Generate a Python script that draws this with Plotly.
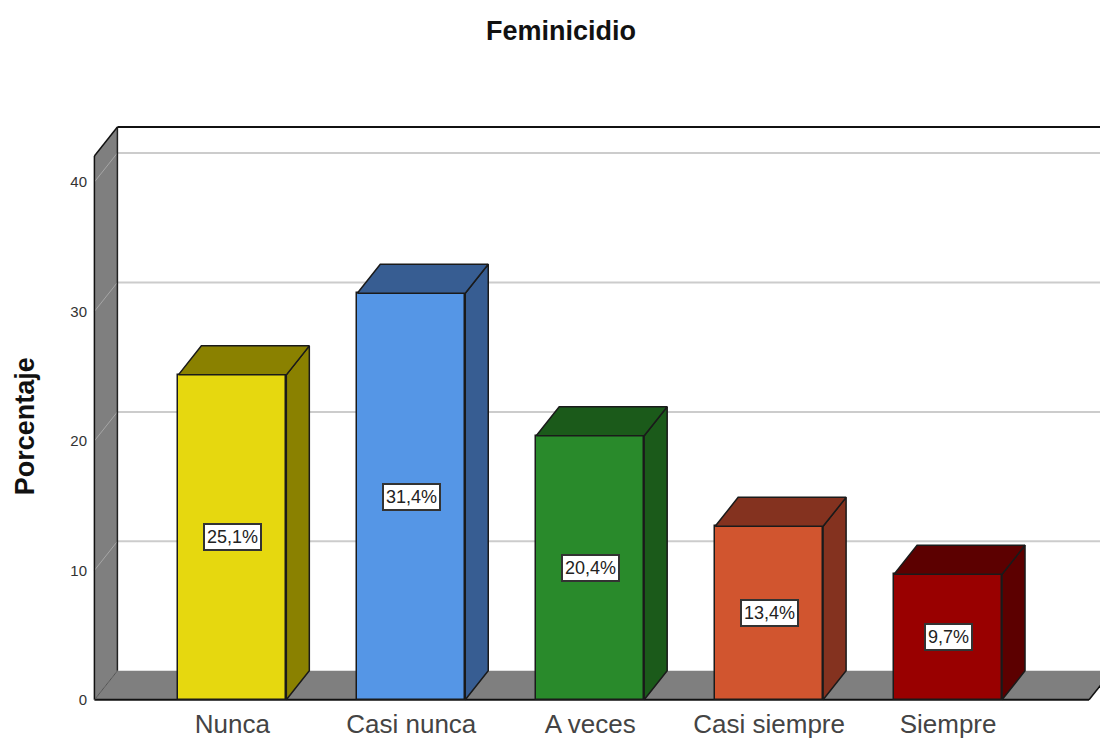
import plotly.graph_objects as go

# ---- datos ----
categorias = ["Nunca", "Casi nunca", "A veces", "Casi siempre", "Siempre"]
porcentajes = [25.1, 31.4, 20.4, 13.4, 9.7]
ticks_y = [0, 10, 20, 30, 40]
colores = ["#E6D80F", "#5596E6", "#298A2B", "#D1552F", "#990000"]
oscuros = ["#8A8100", "#375D92", "#1B5A1A", "#84321F", "#5C0000"]

FUENTE = "Liberation Sans, Arial, sans-serif"
ANCHO, ALTO = 1100, 740

# escala de los ejes: 179 px por categoría, 12.95 px por punto porcentual
PX_X, PX_Y = 179.0, 12.95
X0_PX, Y0_PX = 232.0, 700.0
x_min, x_max = -0.79, (ANCHO - X0_PX) / PX_X
y_min, y_max = -0.4, 44.4

# profundidad del efecto 3D, en unidades de los ejes
dx, dy = 23 / PX_X, 29 / PX_Y
media_barra = 54 / PX_X
izq, der = -138 / PX_X, 4.788
techo = 42.0

GRIS = "#7F7F7F"
BORDE = "#1A1A1A"

shapes = []


def poligono(xs, ys, relleno, borde=None, ancho=0):
    camino = "M " + " L ".join(f"{a},{b}" for a, b in zip(xs, ys)) + " Z"
    shapes.append(dict(type="path", path=camino, xref="x", yref="y", layer="below",
                       fillcolor=relleno, line=dict(color=borde or relleno, width=ancho)))


def linea(x0, y0, x1, y1, color, ancho):
    shapes.append(dict(type="line", x0=x0, y0=y0, x1=x1, y1=y1, xref="x", yref="y",
                       layer="below", line=dict(color=color, width=ancho)))


# pared izquierda y piso
poligono([izq, izq + dx, izq + dx, izq], [0, dy, techo + dy, techo], GRIS)
poligono([izq, der, der + dx, izq + dx], [0, 0, dy, dy], GRIS)

# líneas de la cuadrícula sobre la pared del fondo y la pared izquierda
for t in ticks_y[1:]:
    linea(izq + dx, t + dy, x_max + 0.1, t + dy, "#CCCCCC", 2)
    linea(izq, t, izq + dx, t + dy, "#A6A6A6", 1)

# contornos de la caja
linea(izq + dx, dy, izq + dx, techo + dy, "#222222", 1.5)
linea(izq + dx, techo + dy, x_max + 0.1, techo + dy, "#111111", 2)
linea(izq, techo, izq + dx, techo + dy, "#111111", 1.5)
linea(izq, 0, izq, techo, "#111111", 1.5)
linea(izq, 0, der, 0, "#111111", 2)
linea(der, 0, der + dx, dy, "#111111", 1.5)
linea(izq, 0, izq + dx, dy, "#555555", 1)

fig = go.Figure()

# caras laterales y superiores de cada barra
for i, v in enumerate(porcentajes):
    d = i + media_barra
    a = i - media_barra
    fig.add_trace(go.Scatter(x=[d, d + dx, d + dx, d, d], y=[0, dy, v + dy, v, 0],
        mode="lines", fill="toself", fillcolor=oscuros[i],
        line=dict(color=BORDE, width=1.5), hoverinfo="skip", showlegend=False))
    fig.add_trace(go.Scatter(x=[a, a + dx, d + dx, d, a], y=[v, v + dy, v + dy, v, v],
        mode="lines", fill="toself", fillcolor=oscuros[i],
        line=dict(color=BORDE, width=1.5), hoverinfo="skip", showlegend=False))

# cara frontal
fig.add_trace(go.Bar(x=list(range(len(categorias))), y=porcentajes, width=2 * media_barra,
    marker=dict(color=colores, line=dict(color=BORDE, width=1.5)), showlegend=False))

for i, v in enumerate(porcentajes):
    fig.add_annotation(x=i, y=v / 2, text=f"{v:.1f}%".replace(".", ","), showarrow=False,
        font=dict(family=FUENTE, size=18, color="#222222"), bgcolor="white",
        bordercolor="#333333", borderwidth=2, borderpad=2)

fig.add_annotation(xref="paper", yref="paper", x=(24 - 90.6) / (ANCHO - 90.6),
    y=(705.2 - 426) / 580.2, xanchor="center", yanchor="middle",
    text="<b>Porcentaje</b>", textangle=-90, showarrow=False,
    font=dict(family=FUENTE, size=27, color="#111111"))

fig.update_layout(
    width=ANCHO, height=ALTO, paper_bgcolor="white", plot_bgcolor="white",
    margin=dict(l=X0_PX + x_min * PX_X, r=0, t=Y0_PX - y_max * PX_Y,
                b=ALTO - (Y0_PX - y_min * PX_Y), autoexpand=False),
    title=dict(text="<b>Feminicidio</b>", x=561 / ANCHO, xanchor="center", y=1 - 31 / ALTO,
               yanchor="middle", font=dict(family=FUENTE, size=27, color="#111111")),
    shapes=shapes, bargap=0,
    xaxis=dict(range=[x_min, x_max], tickmode="array", tickvals=list(range(len(categorias))),
               ticktext=categorias, showgrid=False, zeroline=False, showline=False,
               ticks="", ticklabelstandoff=1,
               tickfont=dict(family=FUENTE, size=26, color="#444444")),
    yaxis=dict(range=[y_min, y_max], tickmode="array", tickvals=ticks_y, showgrid=False,
               zeroline=False, showline=False, ticks="", ticklabelstandoff=3,
               tickfont=dict(family=FUENTE, size=15, color="#333333")),
)

fig.write_html("out.html", config=dict(displayModeBar=False),
               post_script="document.body.style.margin='0';")
